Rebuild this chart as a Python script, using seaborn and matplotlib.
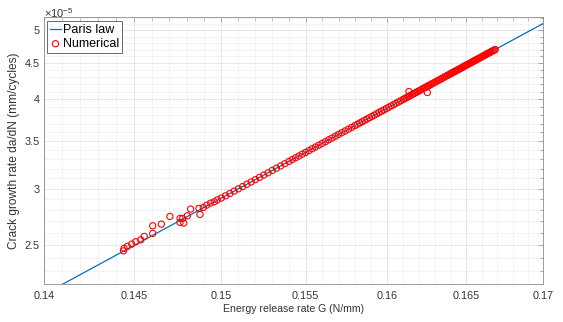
import numpy as np
import matplotlib
matplotlib.use("Agg")
import matplotlib.pyplot as plt
import seaborn as sns
from matplotlib.ticker import FixedLocator, NullFormatter

# Paris law fit (y in units of 1e-5 mm/cycles)
paris_g = [0.14, 0.17]
paris_y = [2.133, 5.11]

# numerical results, start of the run (scattered)
start_g = [0.1444, 0.14443, 0.14462, 0.14486, 0.14509, 0.14537, 0.14557, 0.14605,
           0.14605, 0.14654, 0.14703, 0.14761, 0.14761, 0.14782, 0.14776, 0.14803,
           0.14822, 0.1487, 0.14876, 0.14895, 0.14915, 0.14938, 0.14959, 0.14977]
start_y = [2.454, 2.474, 2.490, 2.508, 2.527, 2.543, 2.571, 2.596,
           2.661, 2.675, 2.742, 2.725, 2.690, 2.684, 2.725, 2.748,
           2.808, 2.814, 2.760, 2.823, 2.844, 2.863, 2.875, 2.893]

# numerical results, stable growth
num_g = [0.15, 0.15025, 0.1505, 0.15075, 0.151, 0.15125, 0.1515, 0.15175, 0.152,
         0.15225, 0.1525, 0.15275, 0.153, 0.15325, 0.1535, 0.15375, 0.154,
         0.1542, 0.1544, 0.1546, 0.1548, 0.155, 0.1552, 0.1554, 0.1556, 0.1558,
         0.156, 0.1562, 0.1564, 0.1566, 0.1568, 0.157, 0.1572, 0.1574, 0.1576,
         0.1578, 0.158,
         0.15815, 0.1583, 0.15845, 0.1586, 0.15875, 0.1589, 0.15905, 0.1592,
         0.15935, 0.1595, 0.15965, 0.1598, 0.15995, 0.1601, 0.16025, 0.1604,
         0.16055, 0.1607, 0.16085, 0.161,
         0.1611, 0.1612, 0.1613, 0.1614, 0.1615, 0.1616, 0.1617, 0.1618, 0.1619,
         0.162, 0.1621, 0.1622, 0.1623, 0.1624, 0.1625, 0.1626, 0.1627, 0.1628,
         0.1629, 0.163, 0.1631, 0.1632, 0.1633, 0.1634, 0.1635, 0.1636, 0.1637,
         0.1638, 0.1639, 0.164,
         0.16407, 0.16414, 0.16421, 0.16428, 0.16435, 0.16442, 0.16449, 0.16456,
         0.16463, 0.1647, 0.16477, 0.16484, 0.16491, 0.16498, 0.16505, 0.16512,
         0.16519, 0.16526, 0.16533, 0.1654, 0.16547, 0.16554, 0.16561, 0.16568,
         0.16575, 0.16582, 0.16589, 0.16596, 0.16603, 0.1661, 0.16617, 0.16624,
         0.16631, 0.16638, 0.16645, 0.16652, 0.16659, 0.16666, 0.16673, 0.1668,
         0.16687,
         0.16136, 0.16252]
num_y = [2.910, 2.931, 2.953, 2.976, 2.998, 3.020, 3.043, 3.065, 3.088,
         3.111, 3.134, 3.157, 3.181, 3.204, 3.228, 3.251, 3.275,
         3.295, 3.314, 3.333, 3.353, 3.372, 3.392, 3.412, 3.431, 3.451,
         3.471, 3.491, 3.512, 3.532, 3.552, 3.573, 3.593, 3.614, 3.634,
         3.655, 3.676,
         3.692, 3.708, 3.723, 3.739, 3.755, 3.771, 3.787, 3.803,
         3.820, 3.836, 3.852, 3.868, 3.885, 3.901, 3.918, 3.934,
         3.951, 3.967, 3.984, 4.001,
         4.012, 4.023, 4.034, 4.046, 4.057, 4.068, 4.080, 4.091, 4.102,
         4.114, 4.125, 4.137, 4.148, 4.160, 4.171, 4.183, 4.194, 4.206,
         4.218, 4.229, 4.241, 4.253, 4.264, 4.276, 4.288, 4.300, 4.312,
         4.323, 4.335, 4.347,
         4.356, 4.364, 4.373, 4.381, 4.389, 4.398, 4.406, 4.415,
         4.423, 4.431, 4.440, 4.449, 4.457, 4.466, 4.474, 4.483,
         4.491, 4.500, 4.508, 4.517, 4.526, 4.534, 4.543, 4.552,
         4.560, 4.569, 4.578, 4.586, 4.595, 4.604, 4.612, 4.621,
         4.630, 4.639, 4.648, 4.656, 4.665, 4.674, 4.683, 4.691,
         4.700,
         4.104, 4.091]

x_major = [0.14, 0.145, 0.15, 0.155, 0.16, 0.165, 0.17]
x_labels = ["0.14", "0.145", "0.15", "0.155", "0.16", "0.165", "0.17"]
y_major = [2.5, 3, 3.5, 4, 4.5, 5]
y_labels = ["2.5", "3", "3.5", "4", "4.5", "5"]

sns.set_style("white")
plt.rcParams["font.family"] = ["Liberation Sans", "DejaVu Sans"]
plt.rcParams["mathtext.fontset"] = "custom"
plt.rcParams["mathtext.rm"] = "Liberation Sans"
plt.rcParams["mathtext.it"] = "Liberation Sans"

txt = "#333333"
fig = plt.figure(figsize=(5.63, 3.22), dpi=100)
ax = fig.add_axes([44 / 563, 1 - 284 / 322, 499 / 563, 267 / 322])

sns.lineplot(x=paris_g, y=paris_y, ax=ax, color="#0072BD", lw=0.9,
             label="Paris law", zorder=3)
sns.scatterplot(x=start_g + num_g, y=start_y + num_y, ax=ax, marker="o", s=20,
                linewidth=0.8, label="Numerical", zorder=4)
pts = ax.collections[-1]
pts.set_facecolor("none")
pts.set_edgecolor("red")

ax.set_xscale("log")
ax.set_yscale("log")
ax.set_xlim(0.14, 0.17)
ax.set_ylim(2.205, 5.22)

ax.xaxis.set_major_locator(FixedLocator(x_major))
ax.set_xticklabels(x_labels)
ax.xaxis.set_minor_locator(FixedLocator(
    [v / 1000 for v in range(141, 170) if v % 5 != 0]))
ax.xaxis.set_minor_formatter(NullFormatter())
ax.yaxis.set_major_locator(FixedLocator(y_major))
ax.set_yticklabels(y_labels)
ax.yaxis.set_minor_locator(FixedLocator(
    [v / 10 for v in range(22, 53) if v % 5 != 0]))
ax.yaxis.set_minor_formatter(NullFormatter())

ax.grid(True, which="major", color="#e3e3e3", lw=0.6)
ax.grid(True, which="minor", color="#efefef", lw=0.5)
ax.set_axisbelow(True)
for s in ax.spines.values():
    s.set_color("#8c8c8c")
    s.set_linewidth(0.6)
ax.tick_params(which="both", direction="in", top=True, right=True,
               colors="#8c8c8c", labelcolor=txt, labelsize=7.8, width=0.5)
ax.tick_params(which="major", length=3.5)
ax.tick_params(axis="x", which="major", pad=5)
ax.tick_params(axis="y", which="major", pad=3)
ax.tick_params(which="minor", length=2)

ax.set_xlabel("Energy release rate G (N/mm)", fontsize=7.6, color=txt, labelpad=2)
ax.set_ylabel("Crack growth rate da/dN (mm/cycles)", fontsize=8.6, color=txt,
              labelpad=3)
fig.text(44 / 563, 1 - 13 / 322, r"$\times 10^{-5}$", fontsize=8, color=txt,
         va="center", ha="left")

leg = ax.legend(loc="upper left", bbox_to_anchor=(3 / 499, 1 - 4 / 267),
                borderaxespad=0, fontsize=9, frameon=True, fancybox=False,
                handlelength=0.85, handletextpad=0.15, labelspacing=0.15,
                borderpad=0.25, edgecolor="#262626", markerscale=1.0)
leg.get_frame().set_linewidth(0.6)
for t in leg.get_texts():
    t.set_color("black")

fig.savefig("out.png", dpi=100, facecolor="white")
